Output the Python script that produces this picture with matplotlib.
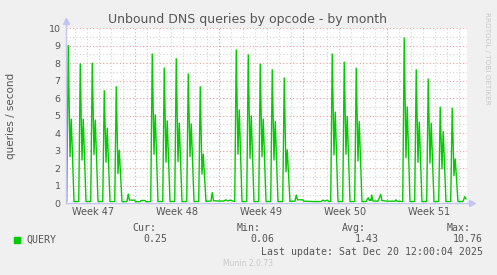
import matplotlib
matplotlib.use("Agg")
import matplotlib.pyplot as plt
from matplotlib.patches import Rectangle

# hours are counted from Mon 17 Nov 2025 00:00
busy_days = [0, 1, 2, 3, 4, 7, 8, 9, 10, 11, 14, 15, 16, 17, 18, 22, 23, 24, 28, 29, 30, 31, 32]
am_peak = [9.0, 7.95, 8.0, 6.42, 6.65, 8.52, 7.72, 8.25, 7.38, 6.65, 8.75, 8.47,
           7.94, 7.62, 7.15, 8.52, 8.06, 7.71, 9.43, 7.62, 7.09, 5.49, 5.43]
midday_dip = [2.66, 2.47, 2.78, 2.34, 1.7, 2.8, 2.34, 2.38, 2.66, 1.66, 2.8, 2.57,
              2.66, 2.47, 1.8, 2.76, 2.8, 2.42, 2.6, 2.34, 2.29, 1.96, 1.58]
pm_peak = [4.8, 4.8, 4.75, 4.28, 3.03, 5.05, 4.7, 4.57, 4.53, 2.8, 5.33, 4.99,
           4.8, 4.66, 3.05, 5.2, 4.95, 4.66, 5.5, 4.63, 4.57, 4.09, 2.53]
busy_base = 0.1
# hour of day for: rise start, morning peak, midday dip, afternoon peak, back to base
day_shape_hours = [7.5, 10.5, 14.0, 16.5, 22.0]

# quiet stretches (weekends, holidays)
quiet_hours = [6, 119, 128, 130.5, 133, 143, 145, 154, 156, 164, 166,
               288, 296, 298.5, 301, 310, 322, 326, 330, 334,
               456, 464, 466.5, 469, 479, 482, 500, 516, 520, 524, 528, 532,
               600, 606, 610.5, 613, 614, 616, 617.5, 620, 630, 635.5, 638, 650, 664, 666, 668,
               792, 800, 803.5, 806]
quiet_vals = [0.12, 0.09, 0.1, 0.53, 0.18, 0.18, 0.09, 0.09, 0.16, 0.16, 0.09,
              0.12, 0.13, 0.61, 0.15, 0.13, 0.13, 0.2, 0.13, 0.18,
              0.12, 0.12, 0.47, 0.2, 0.2, 0.12, 0.1, 0.1, 0.18, 0.12, 0.18, 0.1,
              0.1, 0.1, 0.32, 0.15, 0.2, 0.15, 0.47, 0.13, 0.12, 0.51, 0.15, 0.12, 0.12, 0.2, 0.12,
              0.1, 0.1, 0.38, 0.25]

week_numbers = [47, 48, 49, 50, 51]
stats_labels = ["Cur:", "Min:", "Avg:", "Max:"]
stats_values = ["0.25", "0.06", "1.43", "10.76"]

pts = list(zip(quiet_hours, quiet_vals))
for d, a, m, p in zip(busy_days, am_peak, midday_dip, pm_peak):
    vals = [busy_base, a, m, p, busy_base]
    for h, v in zip(day_shape_hours, vals):
        pts.append((24 * d + h, v))
pts.sort()
x = [h / 24 for h, v in pts]
y = [v for h, v in pts]

W, H = 497, 275
fig = plt.figure(figsize=(W / 100, H / 100), dpi=100, facecolor="#f0f0f0")
left, right, top, bottom = 66, 467, 28, 203.3
ax = fig.add_axes([left / W, 1 - bottom / H, (right - left) / W, (bottom - top) / H])
ax.set_facecolor("white")
ax.set_xlim(0.25, 33.67)
ax.set_ylim(0, 10)

# grid
for d in range(1, 34):
    major = (d % 7 == 6)
    ax.axvline(d, color="#eba0a0" if major else "#d4d4d4", lw=0.8,
               ls=(0, (1, 2)), zorder=1)
for k in range(1, 21):
    v = k / 2
    major = (k % 2 == 0)
    ax.axhline(v, color="#eba0a0" if major else "#d4d4d4", lw=0.8,
               ls=(0, (1, 2)), zorder=1)

ax.plot(x, y, color="#00cc00", lw=1.0, zorder=3)

for s in ax.spines.values():
    s.set_visible(False)
axis_col = "#c4c4f4"
ax.plot([0, 0], [0, 1.04], transform=ax.transAxes, color=axis_col, lw=1, clip_on=False, zorder=4)
ax.plot([0, 1.013], [0, 0], transform=ax.transAxes, color=axis_col, lw=1, clip_on=False, zorder=4)
ax.plot([0], [1.04], transform=ax.transAxes, marker="^", ms=4, color=axis_col, clip_on=False)
ax.plot([1.013], [0], transform=ax.transAxes, marker=">", ms=4, color=axis_col, clip_on=False)

ax.set_yticks(range(0, 11))
ax.tick_params(axis="y", length=0, pad=4, labelsize=6.8, labelcolor="#555555")
ax.set_xticks([2.5 + 7 * i for i in range(len(week_numbers))])
ax.set_xticklabels([f"Week {w}" for w in week_numbers])
ax.tick_params(axis="x", length=0, pad=3, labelsize=7, labelcolor="#555555")

fig.text(248 / W, 1 - 19 / H, "Unbound DNS queries by opcode - by month",
         ha="center", va="center", fontsize=9, color="#555555")
fig.text(11 / W, 1 - 116 / H, "queries / second", rotation=90,
         ha="center", va="center", fontsize=7.5, color="#555555")
fig.text(487 / W, 1 - 58 / H, "RRDTOOL / TOBI OETIKER", rotation=270,
         ha="center", va="center", fontsize=5.2, color="#c8c8c8")

mono = "DejaVu Sans Mono"
fig.patches.append(Rectangle((14 / W, 1 - 242.5 / H), 6 / W, 6 / H,
                             transform=fig.transFigure, color="#00cc00"))
fig.text(26 / W, 1 - 239.5 / H, "QUERY", family=mono, fontsize=7.1,
         color="#555555", va="center")
label_x = [132, 237, 342, 447]
value_x = [143, 250, 355, 453]
for lx, vx, lab, val in zip(label_x, value_x, stats_labels, stats_values):
    fig.text(lx / W, 1 - 228 / H, lab, family=mono, fontsize=7.1,
             color="#555555", va="center")
    fig.text(vx / W, 1 - 239.5 / H, val, family=mono, fontsize=7.1,
             color="#555555", va="center")
fig.text(261 / W, 1 - 252 / H, "Last update: Sat Dec 20 12:00:04 2025",
         family=mono, fontsize=7.1, color="#555555", va="center")
fig.text(248 / W, 1 - 264 / H, "Munin 2.0.73", fontsize=5.5,
         color="#c8c8c8", ha="center", va="center")

fig.savefig("out.png", dpi=100, facecolor=fig.get_facecolor())
